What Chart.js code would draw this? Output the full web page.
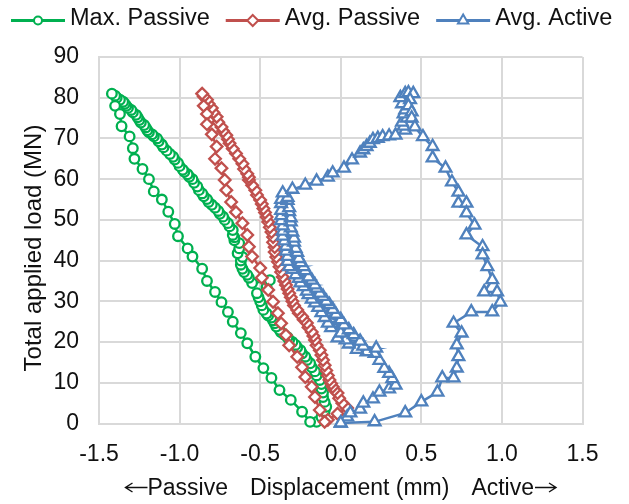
<!DOCTYPE html>
<html lang="en">
<head>
    <meta charset="UTF-8">
    <title>Load vs Displacement</title>
    <script src="https://cdn.jsdelivr.net/npm/chart.js"></script>
    <style>
        html, body { margin: 0; padding: 0; background: #fff; }
        .chart-box { width: 629px; height: 504px; position: relative; }
    </style>
</head>
<body>
    <div class="chart-box"><canvas id="loadChart"></canvas></div>

    <script>
        // axis ranges
        const xRange = [-1.5, 1.5, 0.5];
        const yRange = [0, 90, 10];

        // Max. Passive: loading branch (dense) then unloading branch (sparse)
        const maxPassiveX = [-0.15, -0.12, -0.10, -0.09, -0.10, -0.11, -0.11, -0.12, -0.12, -0.13, -0.15, -0.16, -0.18, -0.19, -0.21, -0.22, -0.24, -0.25, -0.27, -0.28, -0.30, -0.32, -0.33, -0.35, -0.37, -0.38, -0.40, -0.41, -0.42, -0.43, -0.45, -0.46, -0.48, -0.49, -0.50, -0.51, -0.52, -0.46, -0.44, -0.55, -0.57, -0.58, -0.60, -0.61, -0.62, -0.62, -0.61, -0.64, -0.63, -0.63, -0.66, -0.66, -0.67, -0.67, -0.69, -0.70, -0.72, -0.73, -0.75, -0.76, -0.78, -0.80, -0.82, -0.83, -0.85, -0.86, -0.88, -0.89, -0.91, -0.92, -0.94, -0.95, -0.97, -0.98, -1.00, -1.01, -1.03, -1.04, -1.06, -1.08, -1.10, -1.11, -1.13, -1.14, -1.16, -1.17, -1.19, -1.20, -1.21, -1.22, -1.24, -1.25, -1.26, -1.27, -1.29, -1.30, -1.32, -1.33, -1.34, -1.35, -1.37, -1.39, -1.40, -1.42,
            -1.40, -1.37, -1.36, -1.31, -1.29, -1.28, -1.23, -1.19, -1.16, -1.11, -1.07, -1.03, -1.01, -0.95, -0.92, -0.86, -0.83, -0.78, -0.74, -0.70, -0.67, -0.62, -0.58, -0.53, -0.48, -0.43, -0.38, -0.31, -0.24, -0.19];
        const maxPassiveY = [0.4, 1.6, 3.0, 4.1, 5.3, 6.5, 7.6, 8.6, 9.7, 10.7, 11.8, 12.8, 13.8, 14.8, 15.6, 16.4, 17.2, 18.0, 18.7, 19.3, 20.0, 20.5, 21.2, 21.8, 22.4, 23.0, 23.8, 24.6, 25.3, 26.0, 26.5, 27.0, 27.9, 29.0, 30.0, 31.0, 32.0, 33.5, 35.2, 34.5, 35.8, 36.5, 37.2, 38.0, 39.0, 40.0, 40.9, 41.8, 43.0, 44.3, 45.0, 45.7, 46.3, 47.5, 48.4, 49.2, 50.0, 50.8, 51.5, 52.2, 53.0, 53.7, 54.4, 55.1, 55.8, 56.5, 57.3, 58.2, 59.1, 60.0, 60.6, 61.2, 61.8, 62.3, 63.2, 64.0, 64.8, 65.5, 66.2, 67.0, 67.8, 68.5, 69.3, 70.0, 70.5, 71.0, 71.5, 72.0, 72.7, 73.3, 73.9, 74.5, 75.2, 75.8, 76.4, 77.0, 77.5, 78.0, 78.5, 79.0, 79.5, 80.0, 80.5, 81.0,
            78.0, 76.0, 73.0, 70.5, 67.6, 65.0, 62.5, 60.0, 57.0, 55.0, 52.0, 49.0, 46.0, 43.0, 41.0, 38.0, 35.0, 32.3, 29.8, 27.4, 25.0, 22.2, 19.7, 16.4, 13.6, 11.2, 8.2, 5.8, 2.9, 0.4];

        // Avg. Passive
        const avgPassiveX = [-0.08, -0.02, 0.04, 0.01, -0.01, -0.02, -0.04, -0.05, -0.06, -0.07, -0.08, -0.09, -0.10, -0.11, -0.12, -0.13, -0.15, -0.16, -0.17, -0.18, -0.20, -0.21, -0.23, -0.24, -0.26, -0.27, -0.29, -0.30, -0.31, -0.32, -0.33, -0.34, -0.35, -0.36, -0.37, -0.38, -0.39, -0.40, -0.41, -0.41, -0.42, -0.42, -0.43, -0.44, -0.45, -0.46, -0.47, -0.48, -0.49, -0.50, -0.52, -0.53, -0.55, -0.57, -0.57, -0.58, -0.60, -0.61, -0.63, -0.65, -0.67, -0.69, -0.70, -0.71, -0.73, -0.74, -0.76, -0.77, -0.79, -0.80, -0.82, -0.83, -0.85, -0.86,
            -0.85, -0.83, -0.83, -0.80, -0.77, -0.78, -0.74, -0.72, -0.71, -0.68, -0.65, -0.61, -0.58, -0.57, -0.55, -0.50, -0.49, -0.45, -0.42, -0.39, -0.37, -0.34, -0.32, -0.27, -0.24, -0.22, -0.18, -0.16, -0.13, -0.10];
        const avgPassiveY = [0.9, 2.4, 3.8, 5.0, 6.2, 7.5, 8.2, 9.0, 9.8, 10.7, 11.8, 13.0, 14.3, 15.6, 16.8, 18.0, 19.2, 20.5, 21.5, 22.5, 23.6, 24.7, 25.5, 26.3, 27.1, 27.9, 29.0, 30.0, 31.0, 32.0, 33.0, 34.0, 35.0, 36.0, 37.2, 38.5, 39.7, 40.9, 42.1, 43.3, 44.5, 45.8, 47.0, 48.2, 49.5, 50.7, 51.8, 52.8, 53.9, 54.9, 56.1, 57.3, 58.5, 59.8, 60.5, 61.3, 62.5, 63.8, 65.0, 66.3, 67.5, 68.8, 69.8, 70.8, 71.8, 72.8, 74.0, 75.3, 76.4, 77.5, 78.5, 79.5, 80.3, 81.0,
            78.0, 76.0, 73.5, 71.0, 68.0, 65.0, 62.7, 59.8, 57.3, 54.4, 51.9, 49.2, 46.3, 43.4, 41.0, 38.2, 35.8, 32.8, 29.9, 27.1, 24.6, 21.7, 19.2, 16.4, 13.8, 11.4, 9.0, 6.5, 3.3, 0.4];

        // Avg. Active
        const avgActiveX = [0.00, 0.04, 0.06, 0.12, 0.14, 0.20, 0.24, 0.30, 0.34, 0.32, 0.30, 0.27, 0.24, 0.21, 0.16, 0.10, 0.22, 0.14, 0.05, 0.12, 0.03, -0.02, 0.08, 0.00, 0.05, -0.06, 0.02, -0.08, 0.00, -0.10, -0.03, -0.12, -0.05, -0.14, -0.07, -0.16, -0.09, -0.18, -0.11, -0.20, -0.13, -0.21, -0.15, -0.23, -0.16, -0.25, -0.18, -0.26, -0.20, -0.28, -0.22, -0.30, -0.23, -0.32, -0.25, -0.33, -0.26, -0.33, -0.27, -0.34, -0.28, -0.34, -0.29, -0.35, -0.29, -0.36, -0.30, -0.36, -0.31, -0.36, -0.31, -0.37, -0.31, -0.37, -0.32, -0.37, -0.32, -0.37, -0.33, -0.37, -0.33, -0.36,
            -0.30, -0.22, -0.15, -0.08, -0.05, 0.02, 0.07, 0.12, 0.14, 0.16, 0.18, 0.20, 0.23, 0.26, 0.30, 0.34, 0.40, 0.39, 0.38, 0.41, 0.39, 0.40, 0.38, 0.37, 0.40, 0.42, 0.45, 0.43, 0.42, 0.44, 0.44, 0.46, 0.51, 0.57, 0.57, 0.65, 0.69, 0.73, 0.73, 0.78, 0.78, 0.83, 0.78, 0.88, 0.88, 0.91, 0.94, 0.89, 0.97, 0.99, 0.94, 0.81, 0.70, 0.75, 0.72, 0.73, 0.72, 0.70, 0.63, 0.60, 0.50, 0.40, 0.21, 0.00];
        const avgActiveY = [0.1, 1.6, 2.6, 3.5, 5.0, 6.0, 7.7, 8.5, 9.4, 11.0, 12.3, 13.5, 15.5, 17.2, 17.6, 18.2, 18.5, 19.0, 19.5, 20.2, 20.5, 21.0, 21.8, 22.2, 23.0, 23.5, 24.2, 24.6, 25.5, 26.0, 26.8, 27.2, 28.0, 28.5, 29.2, 29.6, 30.0, 30.5, 31.2, 31.6, 32.0, 32.5, 33.2, 33.6, 34.0, 34.5, 35.2, 35.6, 36.0, 36.5, 37.5, 37.8, 38.5, 38.5, 39.5, 39.8, 40.5, 41.0, 42.0, 42.3, 43.0, 43.5, 44.5, 44.8, 45.5, 46.0, 47.0, 47.2, 48.0, 48.5, 49.5, 49.8, 50.5, 51.0, 52.0, 52.3, 53.0, 54.0, 54.8, 55.0, 55.5, 56.6,
            57.5, 58.5, 59.5, 60.5, 61.5, 62.7, 64.7, 66.4, 67.2, 68.0, 68.8, 69.7, 70.0, 70.4, 70.6, 70.8, 72.0, 73.0, 74.0, 75.0, 76.0, 77.0, 78.5, 80.0, 81.0, 81.2, 81.0, 79.5, 78.0, 76.5, 75.0, 72.8, 70.4, 68.0, 65.2, 62.7, 59.3, 56.8, 54.1, 54.1, 51.7, 48.7, 46.3, 43.4, 41.4, 38.5, 35.3, 32.3, 32.3, 29.8, 27.4, 27.4, 24.6, 22.2, 19.3, 16.4, 13.6, 11.2, 11.2, 7.7, 5.3, 2.6, 0.4, 0.1];

        // axis titles
        const xTitleParts = ['Passive', 'Displacement (mm)', 'Active'];
        const yTitle = 'Total applied load (MN)';

        const toPoints = (xs, ys) => xs.map((x, i) => ({ x: x, y: ys[i] }));

        const FONT = '"Liberation Sans", Arial, sans-serif';
        const TEXT = '#111';
        const GRID = '#d9d9d9';

        // small marker painter for the legend
        function marker(ctx, style, x, y, r) {
            ctx.beginPath();
            if (style === 'circle') {
                ctx.arc(x, y, r, 0, Math.PI * 2);
            } else if (style === 'rectRot') {
                ctx.moveTo(x, y - r); ctx.lineTo(x + r, y); ctx.lineTo(x, y + r); ctx.lineTo(x - r, y);
                ctx.closePath();
            } else {
                const w = r * Math.sqrt(3) / 2;
                ctx.moveTo(x, y - r); ctx.lineTo(x + w, y + r / 2); ctx.lineTo(x - w, y + r / 2);
                ctx.closePath();
            }
            ctx.fill();
            ctx.stroke();
        }

        function arrow(ctx, x1, x2, y) {
            const dir = Math.sign(x2 - x1);
            ctx.beginPath();
            ctx.moveTo(x1, y);
            ctx.lineTo(x2, y);
            ctx.moveTo(x2 - dir * 7, y - 4.5);
            ctx.lineTo(x2, y);
            ctx.lineTo(x2 - dir * 7, y + 4.5);
            ctx.stroke();
        }

        // legend drawn as line + marker, like the spreadsheet one
        const lineLegend = {
            id: 'lineLegend',
            afterDraw(chart) {
                const ctx = chart.ctx;
                ctx.save();
                ctx.font = '23.5px ' + FONT;
                ctx.textBaseline = 'middle';
                const lineLen = 54, gapText = 5, gapItem = 16;
                let x = 11;
                const y = 20.5;
                chart.data.datasets.forEach(ds => {
                    const w = ctx.measureText(ds.label).width;
                    ctx.strokeStyle = ds.borderColor;
                    ctx.lineWidth = 3;
                    ctx.beginPath();
                    ctx.moveTo(x, y);
                    ctx.lineTo(x + lineLen, y);
                    ctx.stroke();
                    ctx.fillStyle = '#fff';
                    ctx.lineWidth = 2;
                    marker(ctx, ds.pointStyle, x + lineLen / 2, y, ds.legendRadius);
                    ctx.fillStyle = TEXT;
                    ctx.fillText(ds.label, x + lineLen + gapText, y - 1.5);
                    x += lineLen + gapText + w + gapItem;
                });
                ctx.restore();
            }
        };

        // axis titles with the long arrows
        const axisTitles = {
            id: 'axisTitles',
            afterDraw(chart) {
                const ctx = chart.ctx;
                const area = chart.chartArea;
                ctx.save();
                ctx.fillStyle = TEXT;
                ctx.strokeStyle = TEXT;
                ctx.lineWidth = 1.4;
                ctx.font = '23px ' + FONT;
                ctx.textBaseline = 'alphabetic';
                const gap = 22, arrowLen = 23;
                const widths = xTitleParts.map(t => ctx.measureText(t).width);
                const total = widths.reduce((a, b) => a + b, 0) + gap * 2 + arrowLen * 2;
                let x = (area.left + area.right) / 2 - total / 2;
                const base = 495;
                const arrowY = base - 7.5;
                arrow(ctx, x + arrowLen, x + 1, arrowY);
                x += arrowLen;
                xTitleParts.forEach((t, i) => {
                    ctx.fillText(t, x, base);
                    x += widths[i] + (i < xTitleParts.length - 1 ? gap : 0);
                });
                arrow(ctx, x + 1, x + arrowLen - 1, arrowY);

                ctx.font = '24px ' + FONT;
                ctx.textAlign = 'center';
                ctx.textBaseline = 'middle';
                ctx.translate(34, 248);
                ctx.rotate(-Math.PI / 2);
                ctx.fillText(yTitle, 0, 0);
                ctx.restore();
            }
        };

        const ctx = document.getElementById('loadChart').getContext('2d');
        new Chart(ctx, {
            type: 'scatter',
            data: {
                datasets: [
                    {
                        label: 'Max. Passive',
                        data: toPoints(maxPassiveX, maxPassiveY),
                        showLine: true,
                        borderColor: '#00B050',
                        borderWidth: 2.5,
                        pointStyle: 'circle',
                        pointRadius: 4.8,
                        pointBorderWidth: 2.3,
                        pointBackgroundColor: '#fff',
                        legendRadius: 4,
                        order: 2,
                        clip: false
                    },
                    {
                        label: 'Avg. Passive',
                        data: toPoints(avgPassiveX, avgPassiveY),
                        showLine: true,
                        borderColor: '#C0504D',
                        borderWidth: 2.5,
                        pointStyle: 'rectRot',
                        pointRadius: 5.8,
                        pointBorderWidth: 2.3,
                        pointBackgroundColor: '#fff',
                        legendRadius: 5.5,
                        order: 1,
                        clip: false
                    },
                    {
                        label: 'Avg. Active',
                        data: toPoints(avgActiveX, avgActiveY),
                        showLine: true,
                        borderColor: '#4F81BD',
                        borderWidth: 2.5,
                        pointStyle: 'triangle',
                        pointRadius: 6.8,
                        pointBorderWidth: 2.3,
                        pointBackgroundColor: '#fff',
                        legendRadius: 6,
                        order: 0,
                        clip: false
                    }
                ]
            },
            options: {
                responsive: true,
                maintainAspectRatio: false,
                animation: false,
                layout: { padding: { top: 57, left: 18, right: 46.5, bottom: 0 } },
                plugins: {
                    legend: { display: false },
                    tooltip: { enabled: false }
                },
                scales: {
                    x: {
                        type: 'linear',
                        min: xRange[0],
                        max: xRange[1],
                        ticks: {
                            stepSize: xRange[2],
                            callback: v => v.toFixed(1),
                            padding: 17,
                            color: TEXT,
                            font: { family: FONT, size: 23 }
                        },
                        grid: { color: GRID, lineWidth: 2, drawTicks: false },
                        border: { color: GRID, width: 2 },
                        afterFit: s => { s.height = 80.5; }
                    },
                    y: {
                        min: yRange[0],
                        max: yRange[1],
                        ticks: {
                            stepSize: yRange[2],
                            padding: 20,
                            color: TEXT,
                            font: { family: FONT, size: 23 }
                        },
                        grid: { color: GRID, lineWidth: 2, drawTicks: false },
                        border: { color: GRID, width: 2 },
                        afterFit: s => { s.width = 81; }
                    }
                }
            },
            plugins: [lineLegend, axisTitles]
        });
    </script>
</body>
</html>
